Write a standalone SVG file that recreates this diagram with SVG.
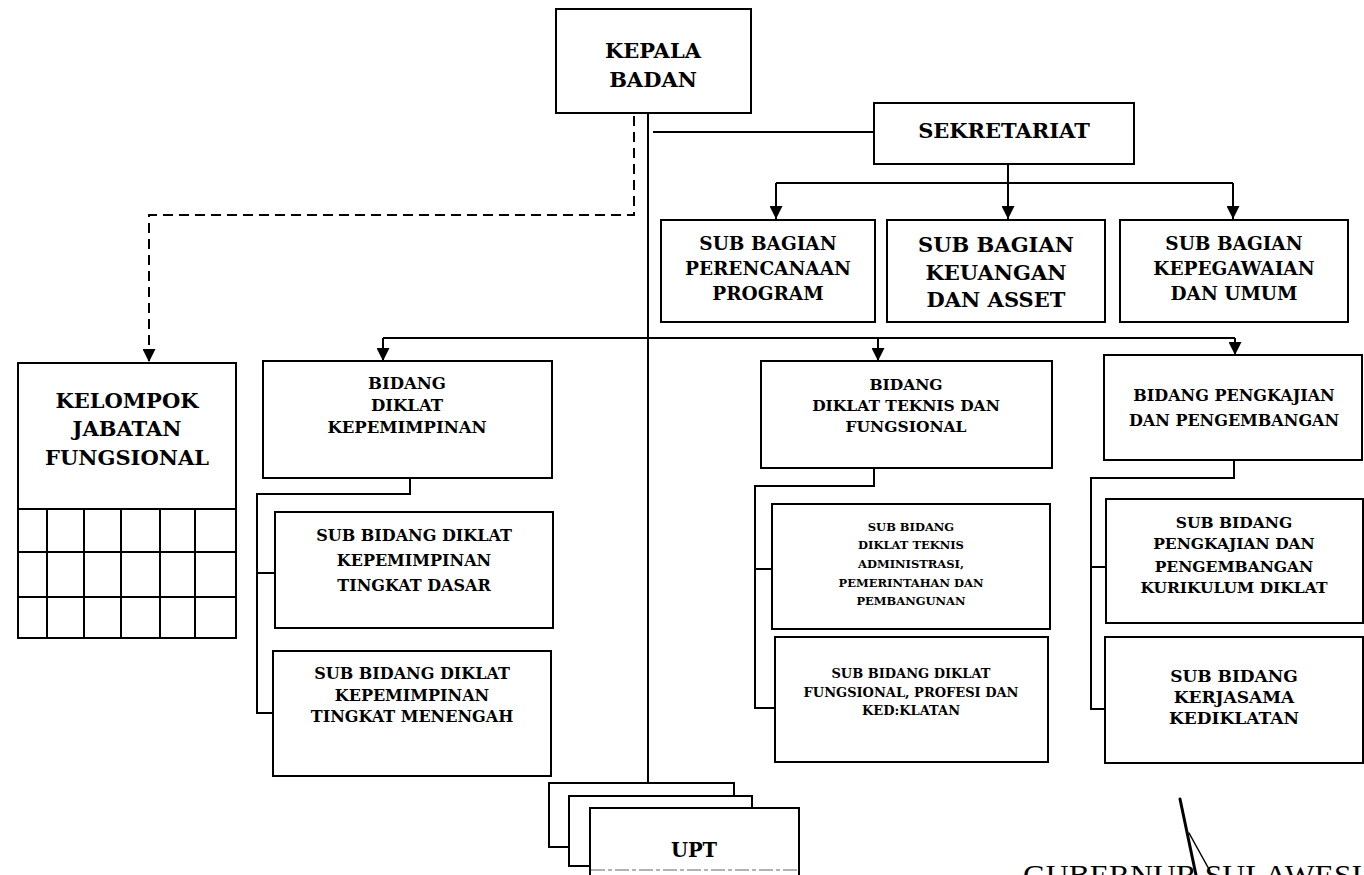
<svg xmlns="http://www.w3.org/2000/svg" width="1364" height="875" viewBox="0 0 1364 875">
  <style>
    .box { fill: #fff; stroke: #000; stroke-width: 2; }
    .ln { fill: none; stroke: #000; stroke-width: 2; }
    .dash { fill: none; stroke: #000; stroke-width: 2; stroke-dasharray: 10 6; }
    .t { font-family: "DejaVu Serif", "Liberation Serif", serif; font-weight: bold; fill: #000; text-anchor: middle; }
    .sig { fill: none; stroke: #000; stroke-linecap: round; }
  </style>
  <defs>
    <marker id="arr" viewBox="0 0 10 10" refX="10" refY="5" markerWidth="13" markerHeight="13" markerUnits="userSpaceOnUse" orient="auto">
      <path d="M0,0 L10,5 L0,10 z" fill="#000"/>
    </marker>
  </defs>
  <rect width="1364" height="875" fill="#fff"/>

  <!-- connectors -->
  <g id="connectors">
    <path class="ln" d="M648,113 V783"/>
    <path class="ln" d="M653,132 H874"/>
    <path class="dash" d="M634,116 V215 H149 V362" marker-end="url(#arr)"/>
    <path class="ln" d="M1008,164 V219" marker-end="url(#arr)"/>
    <path class="ln" d="M776,183 H1233"/>
    <path class="ln" d="M776,183 V219" marker-end="url(#arr)"/>
    <path class="ln" d="M1233,183 V219" marker-end="url(#arr)"/>
    <path class="ln" d="M383,338 H1235"/>
    <path class="ln" d="M383,338 V361" marker-end="url(#arr)"/>
    <path class="ln" d="M878,338 V361" marker-end="url(#arr)"/>
    <path class="ln" d="M1235,338 V355" marker-end="url(#arr)"/>
    <path class="ln" d="M410,478 V494 H257 V713 H273"/>
    <path class="ln" d="M257,573 H275"/>
    <path class="ln" d="M874,468 V486 H755 V708 H775"/>
    <path class="ln" d="M755,569 H772"/>
    <path class="ln" d="M1234,460 V478 H1091 V709 H1105"/>
    <path class="ln" d="M1091,567 H1106"/>
  </g>

  <g id="kepala-badan">
    <rect class="box" x="556" y="9" width="195" height="104"/>
    <text class="t" x="653" y="58" font-size="21">KEPALA</text>
    <text class="t" x="653" y="87" font-size="21">BADAN</text>
  </g>

  <g id="sekretariat">
    <rect class="box" x="874" y="103" width="260" height="61"/>
    <text class="t" x="1004" y="138" font-size="21">SEKRETARIAT</text>
  </g>

  <g id="sub-bagian-perencanaan">
    <rect class="box" x="661" y="220" width="214" height="102"/>
    <text class="t" x="768" y="250" font-size="18.5">SUB BAGIAN</text>
    <text class="t" x="768" y="275" font-size="18.5">PERENCANAAN</text>
    <text class="t" x="768" y="300" font-size="18.5">PROGRAM</text>
  </g>

  <g id="sub-bagian-keuangan">
    <rect class="box" x="887" y="220" width="218" height="102"/>
    <text class="t" x="996" y="252" font-size="21">SUB BAGIAN</text>
    <text class="t" x="996" y="280" font-size="21">KEUANGAN</text>
    <text class="t" x="996" y="307" font-size="21">DAN ASSET</text>
  </g>

  <g id="sub-bagian-kepegawaian">
    <rect class="box" x="1120" y="220" width="228" height="102"/>
    <text class="t" x="1234" y="250" font-size="18.5">SUB BAGIAN</text>
    <text class="t" x="1234" y="275" font-size="18.5">KEPEGAWAIAN</text>
    <text class="t" x="1234" y="300" font-size="18.5">DAN UMUM</text>
  </g>

  <g id="kelompok-jabatan-fungsional">
    <rect class="box" x="18" y="363" width="218" height="275"/>
    <text class="t" x="127" y="408" font-size="21">KELOMPOK</text>
    <text class="t" x="127" y="436" font-size="21">JABATAN</text>
    <text class="t" x="127" y="465" font-size="21">FUNGSIONAL</text>
    <path class="ln" d="M18,509 H236 M18,552 H236 M18,597 H236 M47,509 V638 M84,509 V638 M121,509 V638 M160,509 V638 M195,509 V638"/>
  </g>

  <g id="bidang-kepemimpinan">
    <rect class="box" x="263" y="361" width="289" height="117"/>
    <text class="t" x="407" y="389" font-size="16.5">BIDANG</text>
    <text class="t" x="407" y="411" font-size="16.5">DIKLAT</text>
    <text class="t" x="407" y="433" font-size="16.5">KEPEMIMPINAN</text>
  </g>

  <g id="sub-bidang-tingkat-dasar">
    <rect class="box" x="275" y="512" width="278" height="116"/>
    <text class="t" x="414" y="541" font-size="16">SUB BIDANG DIKLAT</text>
    <text class="t" x="414" y="566" font-size="16">KEPEMIMPINAN</text>
    <text class="t" x="414" y="591" font-size="16">TINGKAT DASAR</text>
  </g>

  <g id="sub-bidang-tingkat-menengah">
    <rect class="box" x="273" y="651" width="278" height="125"/>
    <text class="t" x="412" y="679" font-size="16">SUB BIDANG DIKLAT</text>
    <text class="t" x="412" y="701" font-size="16">KEPEMIMPINAN</text>
    <text class="t" x="412" y="722" font-size="16">TINGKAT MENENGAH</text>
  </g>

  <g id="bidang-teknis-fungsional">
    <rect class="box" x="761" y="361" width="291" height="107"/>
    <text class="t" x="906" y="390" font-size="15.5">BIDANG</text>
    <text class="t" x="906" y="411" font-size="15.5">DIKLAT TEKNIS DAN</text>
    <text class="t" x="906" y="432" font-size="15.5">FUNGSIONAL</text>
  </g>

  <g id="sub-bidang-teknis-administrasi">
    <rect class="box" x="772" y="504" width="278" height="125"/>
    <text class="t" x="911" y="531" font-size="11.5">SUB BIDANG</text>
    <text class="t" x="911" y="549" font-size="11.5">DIKLAT TEKNIS</text>
    <text class="t" x="911" y="568" font-size="11.5">ADMINISTRASI,</text>
    <text class="t" x="911" y="587" font-size="11.5">PEMERINTAHAN DAN</text>
    <text class="t" x="911" y="605" font-size="11.5">PEMBANGUNAN</text>
  </g>

  <g id="sub-bidang-fungsional-profesi">
    <rect class="box" x="775" y="637" width="273" height="125"/>
    <text class="t" x="911" y="678" font-size="13">SUB BIDANG DIKLAT</text>
    <text class="t" x="911" y="697" font-size="13">FUNGSIONAL, PROFESI DAN</text>
    <text class="t" x="911" y="715" font-size="13">KED:KLATAN</text>
  </g>

  <g id="bidang-pengkajian">
    <rect class="box" x="1104" y="355" width="258" height="105"/>
    <text class="t" x="1234" y="401" font-size="16">BIDANG PENGKAJIAN</text>
    <text class="t" x="1234" y="426" font-size="16">DAN PENGEMBANGAN</text>
  </g>

  <g id="sub-bidang-kurikulum">
    <rect class="box" x="1106" y="499" width="257" height="124"/>
    <text class="t" x="1234" y="528" font-size="15.5">SUB BIDANG</text>
    <text class="t" x="1234" y="549" font-size="15.5">PENGKAJIAN DAN</text>
    <text class="t" x="1234" y="572" font-size="15.5">PENGEMBANGAN</text>
    <text class="t" x="1234" y="593" font-size="15.5">KURIKULUM DIKLAT</text>
  </g>

  <g id="sub-bidang-kerjasama">
    <rect class="box" x="1105" y="637" width="258" height="126"/>
    <text class="t" x="1234" y="682" font-size="17">SUB BIDANG</text>
    <text class="t" x="1234" y="703" font-size="17">KERJASAMA</text>
    <text class="t" x="1234" y="724" font-size="17">KEDIKLATAN</text>
  </g>

  <g id="upt">
    <rect class="box" x="549" y="783" width="185" height="64"/>
    <rect class="box" x="569" y="796" width="183" height="70"/>
    <rect class="box" x="590" y="808" width="209" height="80"/>
    <line x1="591" y1="870" x2="798" y2="870" stroke="#999" stroke-width="1.5" stroke-dasharray="14 3 4 3"/>
    <text class="t" x="694" y="857" font-size="19.5">UPT</text>
  </g>

  <g id="pengesahan">
    <path class="sig" d="M1180,799 L1196,875" stroke-width="3"/>
    <path class="sig" d="M1189,833 L1210,871" stroke-width="1.5"/>
    <text x="1023" y="885" font-family="'Liberation Serif', serif" font-size="30" textLength="339" lengthAdjust="spacingAndGlyphs" fill="#000">GUBERNUR SULAWESI</text>
  </g>
</svg>
